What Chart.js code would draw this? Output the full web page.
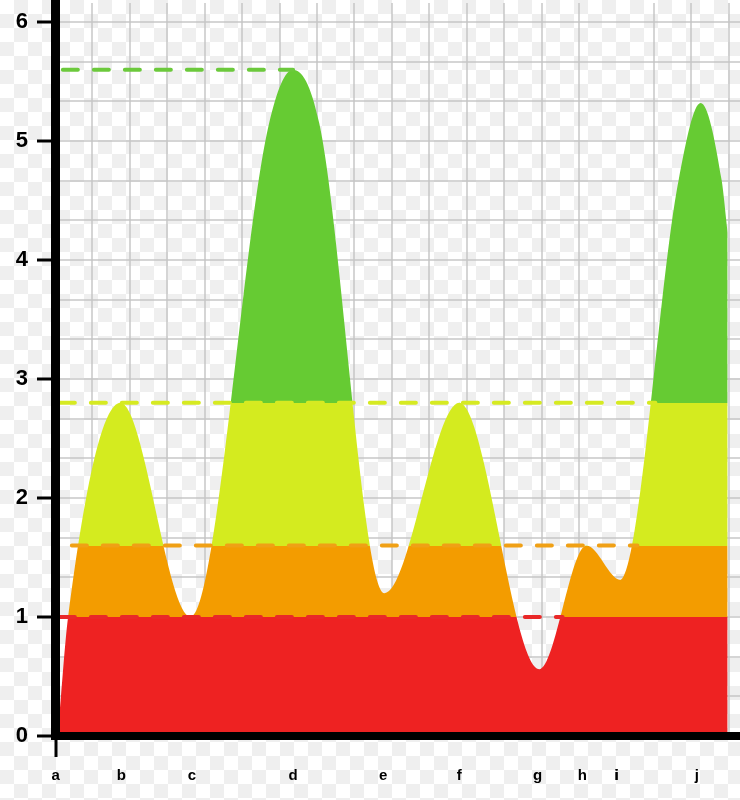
<!DOCTYPE html>
<html>
<head>
<meta charset="utf-8">
<script src="https://cdn.jsdelivr.net/npm/chart.js@4"></script>
<style>
  body {
    margin: 0;
    background-color: #fff;
    background-image: conic-gradient(#efefef 25%, #fff 0 50%, #efefef 0 75%, #fff 0);
    background-size: 28px 28px;
  }
  canvas { display: block; }
</style>
</head>
<body>
<canvas id="chart" width="740" height="800"></canvas>
<script>
// curve points (x in grid columns, y in value units)
const curveX = [0.1, 0.35, 1.75, 3.63, 5.72, 6.36, 7.06, 8.8, 10.8, 12.94, 14.2, 15.11, 16.66, 17.25, 17.81, 17.97];
const curveY = [0.1, 1.0, 2.8, 1.0, 5.15, 5.6, 5.15, 1.2, 2.8, 0.56, 1.6, 1.31, 4.67, 5.32, 4.67, 4.23];

// category labels under the axis
const categories = ["a", "b", "c", "d", "e", "f", "g", "h", "i", "j"];
const categoryX = [0.02, 1.77, 3.66, 6.36, 8.77, 10.8, 12.89, 14.09, 15.0, 17.15];

const yTicks = [0, 1, 2, 3, 4, 5, 6];

// colour bands of the filled area
const bandLimits = [1, 1.6, 2.8];
const bandColors = ["#ee2222", "#f39c00", "#d4eb1f", "#66cb33"];

// dashed reference lines
const refLevels = [1, 1.6, 2.8, 5.6];
const refFrom = [0.13, 0.45, 0.13, 0.21];
const refTo = [13.56, 15.56, 16.04, 6.36];
const refColors = ["#e92828", "#f0a015", "#d6ea22", "#6cc93c"];

const X_MAX = 18.3;
const Y_MAX = 6.16;
const gridColor = "rgba(195,195,195,0.7)";

const xGrid = [];
for (let i = 0; i <= 18; i++) xGrid.push(i);
const xTickValues = [...xGrid, ...categoryX].sort((a, b) => a - b);

const yGrid = [];
for (let k = 0; k <= 18; k++) yGrid.push(k / 3);

function bandFill(ctx) {
  const chart = ctx.chart;
  const area = chart.chartArea;
  if (!area) return bandColors[0];
  const y = chart.scales.y;
  const g = chart.ctx.createLinearGradient(0, area.bottom, 0, area.top);
  const pos = v => (area.bottom - y.getPixelForValue(v)) / (area.bottom - area.top);
  g.addColorStop(0, bandColors[0]);
  bandLimits.forEach((lim, i) => {
    const p = pos(lim);
    g.addColorStop(p, bandColors[i]);
    g.addColorStop(p, bandColors[i + 1]);
  });
  g.addColorStop(1, bandColors[bandColors.length - 1]);
  return g;
}

const datasets = [{
  data: curveX.map((x, i) => ({ x, y: curveY[i] })),
  backgroundColor: bandFill,
  borderWidth: 0,
  pointRadius: 0,
  fill: "origin",
  cubicInterpolationMode: "monotone",
  order: 1
}];

refLevels.forEach((lvl, i) => {
  datasets.push({
    data: [{ x: refFrom[i], y: lvl }, { x: refTo[i], y: lvl }],
    borderColor: refColors[i],
    borderWidth: 4,
    borderDash: [15, 16],
    borderCapStyle: "round",
    pointRadius: 0,
    fill: false,
    order: 0
  });
});

const labelFont = { family: "'Liberation Sans', Arial, sans-serif", weight: "bold" };

new Chart(document.getElementById("chart"), {
  type: "line",
  data: { datasets },
  options: {
    responsive: false,
    animation: false,
    layout: { padding: { top: 3, right: 0, left: 0, bottom: 0 } },
    plugins: { legend: { display: false }, tooltip: { enabled: false } },
    scales: {
      x: {
        type: "linear",
        min: 0,
        max: X_MAX,
        afterBuildTicks: s => { s.ticks = xTickValues.map(v => ({ value: v })); },
        afterFit: s => { s.height = 64; s.paddingLeft = 0; s.paddingRight = 0; },
        border: { color: "#000", width: 8, z: 1 },
        grid: {
          color: c => (c.tick && categoryX.includes(c.tick.value) ? "transparent" : gridColor),
          lineWidth: 2,
          tickLength: 21,
          tickWidth: 3,
          tickColor: c => (c.tick && c.tick.value === categoryX[0] ? "#000" : "transparent")
        },
        ticks: {
          autoSkip: false,
          maxRotation: 0,
          padding: 10,
          color: "#000",
          font: { ...labelFont, size: 15 },
          callback: v => {
            const i = categoryX.indexOf(v);
            return i >= 0 ? categories[i] : "";
          }
        }
      },
      y: {
        min: 0,
        max: Y_MAX,
        afterBuildTicks: s => { s.ticks = yGrid.map(v => ({ value: v })); },
        afterFit: s => { s.width = 55; s.paddingTop = 0; s.paddingBottom = 0; },
        border: { color: "#000", width: 9, z: 1 },
        grid: {
          color: gridColor,
          lineWidth: 2,
          tickLength: 18,
          tickWidth: 3,
          tickColor: c => (c.tick && yTicks.includes(c.tick.value) ? "#000" : "transparent")
        },
        ticks: {
          padding: 9,
          color: "#000",
          font: { ...labelFont, size: 22 },
          callback: v => (yTicks.includes(v) ? String(v) : "")
        }
      }
    }
  }
});
</script>
</body>
</html>
